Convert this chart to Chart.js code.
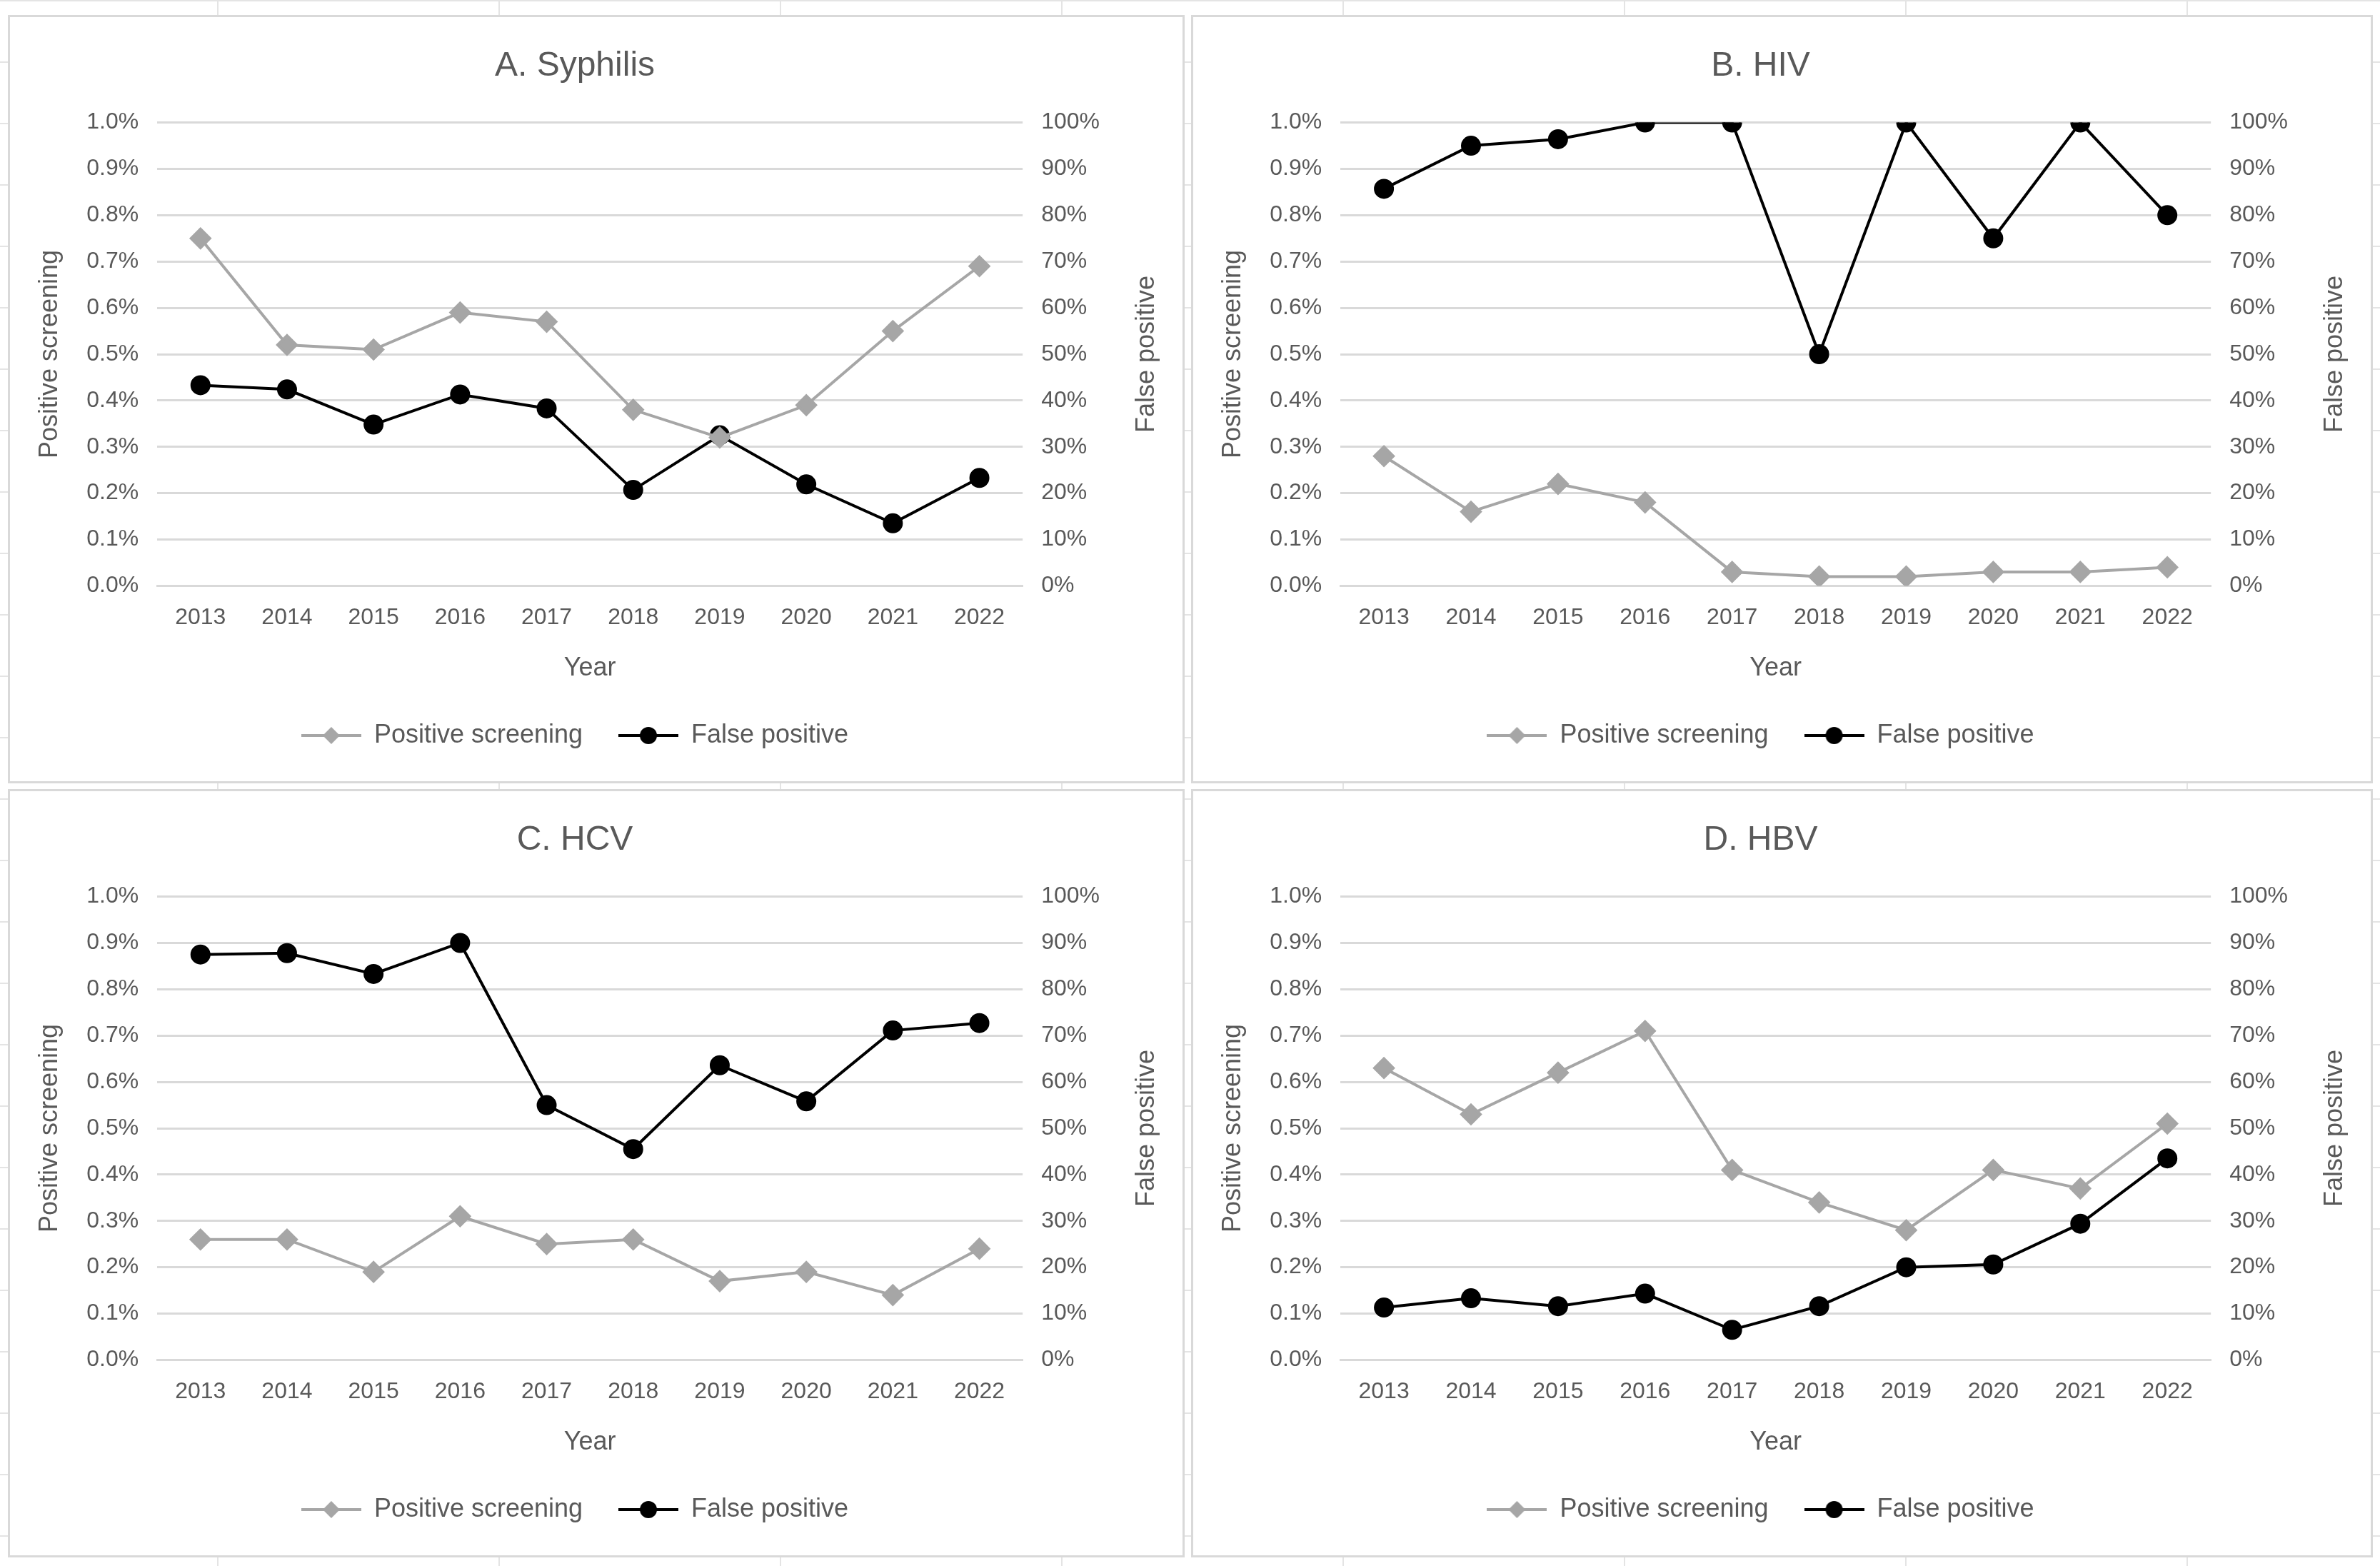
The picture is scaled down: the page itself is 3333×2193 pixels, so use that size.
<!DOCTYPE html>
<html><head><meta charset="utf-8">
<script src="https://cdn.jsdelivr.net/npm/chart.js@4"></script>
<style>
html,body{margin:0;padding:0;background:#fff;}
body{width:3333px;height:2193px;position:relative;overflow:hidden;
background-image:linear-gradient(to right,#e4e4e4 2px,transparent 2px),linear-gradient(to bottom,#e4e4e4 2px,transparent 2px);
background-size:394px 86px;background-position:-90px 0;}
.p{position:absolute;background:#fff;border:3px solid #d9d9d9;box-sizing:border-box;}
canvas{display:block;}
</style></head><body>
<div class="p" style="left:11px;top:21px;width:1648px;height:1076px"><canvas id="cA"></canvas></div>
<div class="p" style="left:1668px;top:21px;width:1655px;height:1076px"><canvas id="cB"></canvas></div>
<div class="p" style="left:11px;top:1105px;width:1648px;height:1076px"><canvas id="cC"></canvas></div>
<div class="p" style="left:1668px;top:1105px;width:1655px;height:1076px"><canvas id="cD"></canvas></div>
<script>
const years = ['2013','2014','2015','2016','2017','2018','2019','2020','2021','2022'];
const titles = ['A. Syphilis','B. HIV','C. HCV','D. HBV'];
const posA = [0.75,0.52,0.51,0.59,0.57,0.38,0.32,0.39,0.55,0.69];
const fpA  = [43.3,42.4,34.8,41.3,38.3,20.7,32.5,21.9,13.5,23.3];
const posB = [0.28,0.16,0.22,0.18,0.03,0.02,0.02,0.03,0.03,0.04];
const fpB  = [85.7,95.0,96.4,100,100,50,100,75,100,80];
const posC = [0.26,0.26,0.19,0.31,0.25,0.26,0.17,0.19,0.14,0.24];
const fpC  = [87.5,87.8,83.3,90.0,55.0,45.5,63.6,55.8,71.1,72.7];
const posD = [0.63,0.53,0.62,0.71,0.41,0.34,0.28,0.41,0.37,0.51];
const fpD  = [11.3,13.3,11.6,14.3,6.5,11.6,20.0,20.6,29.4,43.5];
const posSeries=[posA,posB,posC,posD], fpSeries=[fpA,fpB,fpC,fpD];
const GRAY='#a6a6a6', BLACK='#000000', TXT='#595959';
const F='"Liberation Sans", Arial, sans-serif';

function legendIcon(color, shape){
  const c=document.createElement('canvas'); c.width=84; c.height=30;
  const g=c.getContext('2d');
  g.strokeStyle=color; g.lineWidth=4; g.beginPath(); g.moveTo(0,15); g.lineTo(84,15); g.stroke();
  g.fillStyle=color; g.beginPath();
  if(shape==='d'){g.moveTo(42,3);g.lineTo(54,15);g.lineTo(42,27);g.lineTo(30,15);g.closePath();}
  else{g.arc(42,15,12,0,Math.PI*2);}
  g.fill(); return c;
}
const icons=[legendIcon(GRAY,'d'),legendIcon(BLACK,'c')];

const rightTitle={id:'rightTitle',afterDraw(ch){
  const s=ch.scales.y1,g=ch.ctx; g.save();
  g.font='36px '+F; g.fillStyle=TXT; g.textAlign='center'; g.textBaseline='middle';
  g.translate(s.right+40,(s.top+s.bottom)/2); g.rotate(-Math.PI/2); g.fillText('False positive',0,0); g.restore();
}};

['cA','cB','cC','cD'].forEach((id,i)=>{
  new Chart(document.getElementById(id),{
    type:'line',
    data:{labels:years,datasets:[
      {label:'Positive screening',data:posSeries[i],yAxisID:'y',borderColor:GRAY,backgroundColor:GRAY,
       borderWidth:4,pointStyle:'rectRot',pointRadius:13,pointHoverRadius:13,tension:0},
      {label:'False positive',data:fpSeries[i],yAxisID:'y1',borderColor:BLACK,backgroundColor:BLACK,
       borderWidth:4,pointStyle:'circle',pointRadius:12,pointHoverRadius:12,tension:0}
    ]},
    plugins:[rightTitle],
    options:{
      responsive:true,maintainAspectRatio:false,animation:false,
      layout:{padding:{top:40,left:30,right:90,bottom:36}},
      plugins:{
        title:{display:true,text:titles[i],color:TXT,font:{family:F,size:48,weight:'normal'},padding:{top:0,bottom:50}},
        legend:{position:'bottom',labels:{usePointStyle:true,pointStyleWidth:84,color:TXT,font:{family:F,size:36},padding:50,
          generateLabels:(ch)=>ch.data.datasets.map((d,k)=>({text:d.label,pointStyle:icons[k],fillStyle:d.backgroundColor,strokeStyle:d.borderColor,lineWidth:0,datasetIndex:k,fontColor:TXT}))}},
        tooltip:{enabled:false}
      },
      scales:{
        x:{offset:true,grid:{display:false,drawTicks:false},border:{display:true,color:'#d9d9d9',width:3},
           ticks:{color:TXT,font:{family:F,size:32},padding:26},
           title:{display:true,text:'Year',color:TXT,font:{family:F,size:36},padding:{top:4}}},
        y:{position:'left',min:0,max:1,grid:{color:'#d9d9d9',lineWidth:3,drawTicks:false},border:{display:false},
           ticks:{stepSize:0.1,color:TXT,font:{family:F,size:32},padding:26,callback:v=>v.toFixed(1)+'%'},
           title:{display:true,text:'Positive screening',color:TXT,font:{family:F,size:36}}},
        y1:{position:'right',min:0,max:100,grid:{display:false,drawTicks:false},border:{display:false},
           ticks:{stepSize:10,color:TXT,font:{family:F,size:32},padding:26,callback:v=>Math.round(v)+'%'}}
      }
    }
  });
});
</script></body></html>
